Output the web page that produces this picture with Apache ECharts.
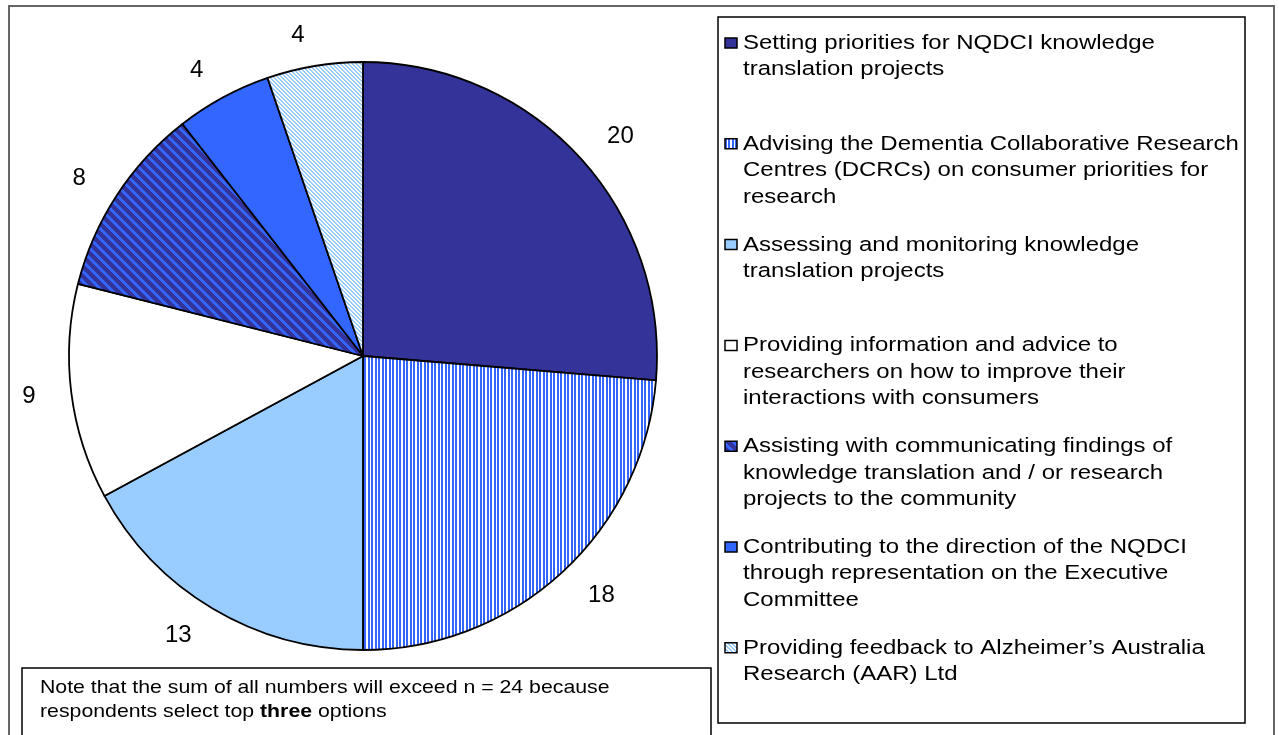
<!DOCTYPE html>
<html>
<head>
<meta charset="utf-8">
<script src="https://cdn.jsdelivr.net/npm/echarts@6/dist/echarts.min.js"></script>
<style>
    html, body { margin: 0; padding: 0; background: #fff; }
    #chart { width: 1279px; height: 735px; }
</style>
</head>
<body>
<div id="chart"></div>
<script>
    var categories = [
        'Setting priorities for NQDCI knowledge\ntranslation projects',
        'Advising the Dementia Collaborative Research\nCentres (DCRCs) on consumer priorities for\nresearch',
        'Assessing and monitoring knowledge\ntranslation projects',
        'Providing information and advice to\nresearchers on how to improve their\ninteractions with consumers',
        'Assisting with communicating findings of\nknowledge translation and / or research\nprojects to the community',
        'Contributing to the direction of the NQDCI\nthrough representation on the Executive\nCommittee',
        'Providing feedback to Alzheimer\u2019s Australia\nResearch (AAR) Ltd'
    ];
    var counts = [20, 18, 13, 9, 8, 4, 4];
    var noteLines = [
        'Note that the sum of all numbers will exceed n = 24 because',
        ['respondents select top ', 'three', ' options']
    ];

    // little canvas tiles for the excel-like hatch fills
    var makeTile = function (size, bg, fg, test) {
        var c = document.createElement('canvas');
        c.width = size;
        c.height = size;
        var ctx = c.getContext('2d');
        ctx.fillStyle = bg;
        ctx.fillRect(0, 0, size, size);
        ctx.fillStyle = fg;
        for (var x = 0; x < size; x++) {
            for (var y = 0; y < size; y++) {
                if (test(x, y)) {
                    ctx.fillRect(x, y, 1, 1);
                }
            }
        }
        return {image: c, repeat: 'repeat'};
    };
    var vStripes = makeTile(7, '#ffffff', '#3366ff', function (x) { return x === 0 || x === 1 || x === 4 || x === 5; });
    var navyDiag = makeTile(10, '#333399', '#3366ff', function (x, y) { return ((x - y + 20) % 10) < 4; });
    var lightDiag = makeTile(4, '#ffffff', '#99ccff', function (x, y) { return ((x - y + 8) % 4) < 2; });

    var fills = ['#333399', vStripes, '#99ccff', '#ffffff', navyDiag, '#3366ff', lightDiag];

    var chart = echarts.init(document.getElementById('chart'));

    var graphics = [];
    graphics.push({
        type: 'rect', shape: {x: 9, y: 6, width: 1265, height: 740},
        style: {fill: 'none', stroke: '#666', lineWidth: 2}, silent: true
    });
    graphics.push({
        type: 'rect', shape: {x: 718, y: 17, width: 527, height: 706},
        style: {fill: '#fff', stroke: '#000', lineWidth: 1.5}, silent: true
    });
    graphics.push({
        type: 'rect', shape: {x: 22, y: 668, width: 689, height: 80},
        style: {fill: '#fff', stroke: '#000', lineWidth: 1.5}, silent: true
    });

    var legendTop = 43, legendStep = 100.8;
    categories.forEach(function (name, i) {
        var cy = legendTop + i * legendStep;
        graphics.push({
            type: 'rect', shape: {x: 725, y: cy - 5, width: 12, height: 10},
            style: {fill: fills[i], stroke: '#000', lineWidth: 1.5}, silent: true
        });
        graphics.push({
            type: 'text', x: 743, y: cy - 13, scaleX: 1.17,
            style: {
                text: name, fill: '#000', font: '20.5px "Liberation Sans", Arial, sans-serif',
                lineHeight: 26.5, verticalAlign: 'top', align: 'left'
            },
            silent: true
        });
    });

    graphics.push({
        type: 'text', x: 40, y: 676, scaleX: 1.12,
        style: {
            text: '{n|' + noteLines[0] + '}\n{n|' + noteLines[1][0] + '}{b|' + noteLines[1][1] + '}{n|' + noteLines[1][2] + '}',
            rich: {
                n: {fontSize: 19, fontFamily: 'Liberation Sans', lineHeight: 24, fill: '#000'},
                b: {fontSize: 19, fontFamily: 'Liberation Sans', fontWeight: 'bold', lineHeight: 24, fill: '#000'}
            },
            verticalAlign: 'top'
        },
        silent: true
    });

    var option = {
        animation: false,
        backgroundColor: '#fff',
        series: [
            {
                type: 'pie',
                center: [363, 356],
                radius: 294,
                startAngle: 90,
                clockwise: true,
                avoidLabelOverlap: false,
                data: categories.map(function (name, i) {
                    return {name: name, value: counts[i], itemStyle: {color: fills[i]}};
                }),
                itemStyle: {borderColor: '#000', borderWidth: 1.8},
                label: {
                    position: 'outside',
                    formatter: '{c}',
                    color: '#000',
                    fontSize: 24,
                    fontFamily: 'Liberation Sans'
                },
                labelLine: {show: false, length: 31, length2: 0},
                emphasis: {disabled: true}
            }
        ],
        graphic: graphics
    };
    chart.setOption(option);
</script>
</body>
</html>
